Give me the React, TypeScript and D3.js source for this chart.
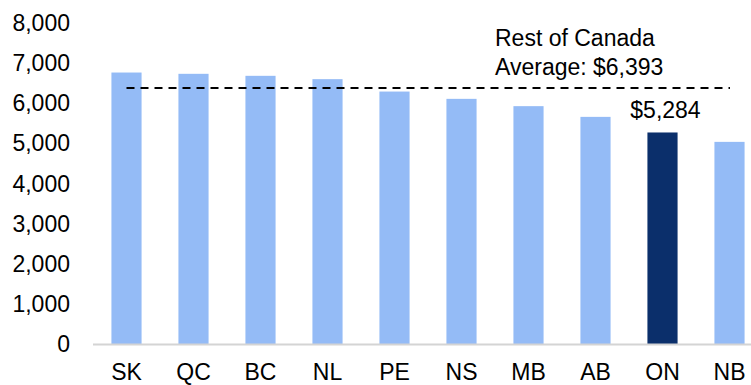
import React from "react";
import * as d3 from "d3";

const provinces = ["SK", "QC", "BC", "NL", "PE", "NS", "MB", "AB", "ON", "NB"];
const spending = [6778, 6746, 6696, 6613, 6304, 6122, 5940, 5673, 5284, 5050];
const yTicks = [0, 1000, 2000, 3000, 4000, 5000, 6000, 7000, 8000];
const restOfCanadaAverage = 6393;
const highlighted = "ON";

const W = 751;
const H = 385;
const FONT = "'Liberation Sans', Arial, Helvetica, sans-serif";
const FS = 23;

export default function App() {
  const x = d3
    .scaleBand<string>()
    .domain(provinces)
    .range([93, 763])
    .paddingInner(0.55)
    .paddingOuter(0.275);
  const y = d3.scaleLinear().domain([0, 8000]).range([344.5, 23.5]);
  const fmt = d3.format(",");

  const avgY = y(restOfCanadaAverage);
  const first = provinces[0];
  const onX = x(highlighted)! + x.bandwidth() / 2;
  const onVal = spending[provinces.indexOf(highlighted)];

  return (
    <svg
      width={W}
      height={H}
      style={{ position: "absolute", left: 0, top: 0, background: "#fff" }}
      fontFamily={FONT}
    >
      {yTicks.map((t) => (
        <text
          key={t}
          x={70}
          y={y(t)}
          dy="0.33em"
          textAnchor="end"
          fontSize={FS}
          fill="#000"
        >
          {fmt(t)}
        </text>
      ))}

      {provinces.map((p, i) => (
        <rect
          key={p}
          x={x(p)}
          y={y(spending[i])}
          width={x.bandwidth()}
          height={y(0) - y(spending[i])}
          fill={p === highlighted ? "#0B2F6B" : "#94BBF6"}
        />
      ))}

      <line x1={93} x2={W} y1={y(0)} y2={y(0)} stroke="#d4d4d4" strokeWidth={2} />

      {provinces.map((p) => (
        <text
          key={p}
          x={x(p)! + x.bandwidth() / 2}
          y={380}
          textAnchor="middle"
          fontSize={FS}
          fill="#000"
        >
          {p}
        </text>
      ))}

      <line
        x1={x(first)! + x.bandwidth() / 2}
        x2={730}
        y1={avgY}
        y2={avgY}
        stroke="#000"
        strokeWidth={2}
        strokeDasharray="8 6"
      />

      <text x={495} y={46} fontSize={FS} fill="#000">
        Rest of Canada
      </text>
      <text x={495} y={75} fontSize={FS} fill="#000">
        {`Average: $${fmt(restOfCanadaAverage)}`}
      </text>

      <text x={onX + 3} y={y(onVal) - 14} textAnchor="middle" fontSize={FS} fill="#000">
        {`$${fmt(onVal)}`}
      </text>
    </svg>
  );
}
